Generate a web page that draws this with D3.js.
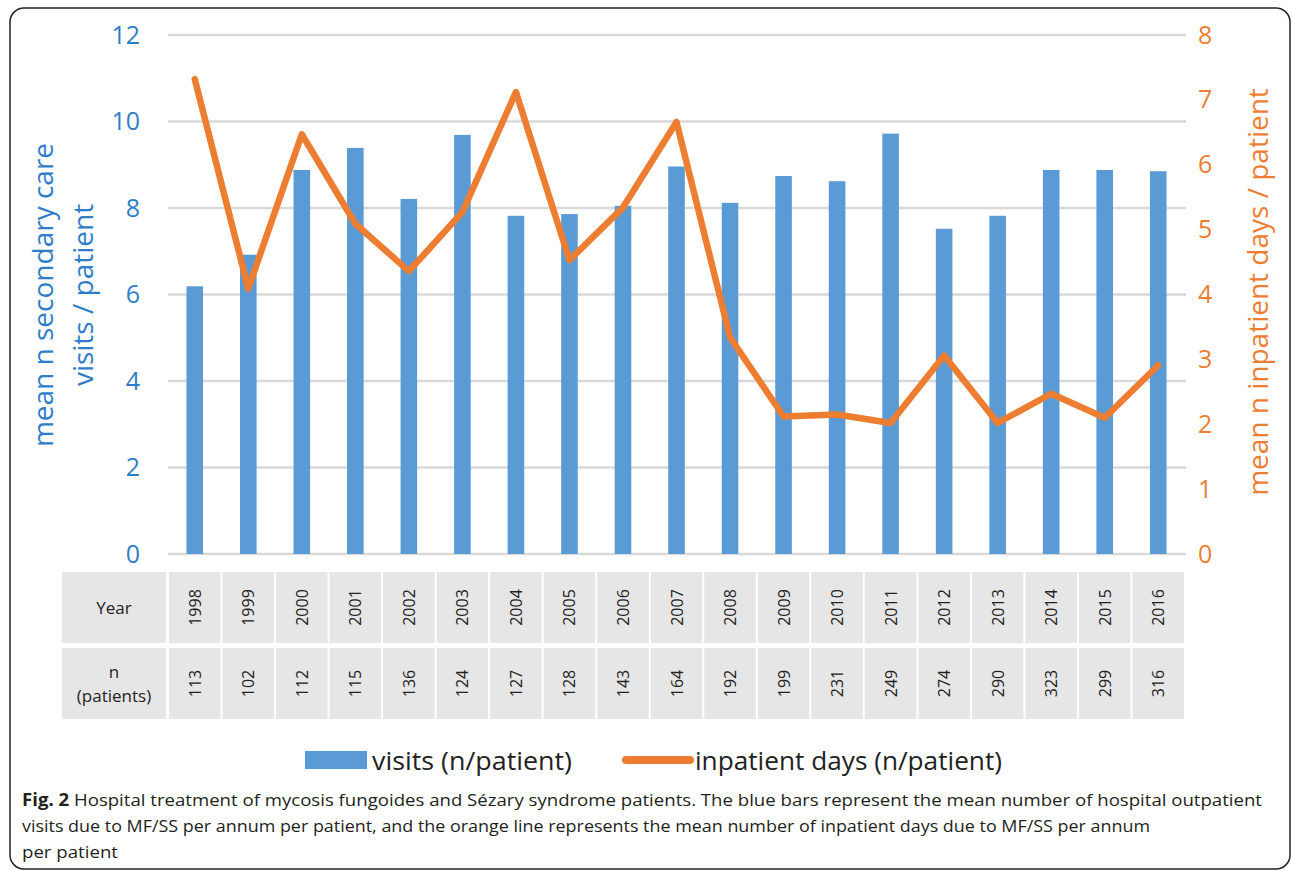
<!DOCTYPE html>
<html>
<head>
<meta charset="utf-8">
<script src="https://cdn.jsdelivr.net/npm/d3@7"></script>
<style>
body { margin: 0; background: #fff; }
svg text { font-family: "Open Sans", sans-serif; }
</style>
</head>
<body>
<svg></svg>
<script>

var w = 1292;
var h = 871;

// values
var years = ["1998","1999","2000","2001","2002","2003","2004","2005","2006","2007",
             "2008","2009","2010","2011","2012","2013","2014","2015","2016"];
var patients = [113,102,112,115,136,124,127,128,143,164,192,199,231,249,274,290,323,299,316];
var visits = [6.19,6.92,8.88,9.39,8.21,9.69,7.82,7.86,8.05,8.96,8.12,8.74,8.62,9.72,7.52,7.82,8.88,8.88,8.85];
var inpatientDays = [7.32,4.09,6.47,5.09,4.36,5.27,7.12,4.53,5.34,6.66,3.34,2.12,2.15,2.02,3.06,2.02,2.47,2.10,2.91];
var leftTicks = [0,2,4,6,8,10,12];
var rightTicks = [0,1,2,3,4,5,6,7,8];

var blue = "#5B9BD5";
var orange = "#ED7D31";

var svg = d3.select("svg")
    .attr("width", w)
    .attr("height", h);

// outer frame
svg.append("rect")
    .attr("x", 10).attr("y", 8)
    .attr("width", 1280).attr("height", 861)
    .attr("rx", 14)
    .attr("fill", "none")
    .attr("stroke", "#222")
    .attr("stroke-width", 1.5);

var x = d3.scaleBand()
    .domain(years)
    .range([168, 1185])
    .paddingInner(0.69)
    .paddingOuter(0.345);

var yL = d3.scaleLinear().domain([0, 12]).range([554, 35]);
var yR = d3.scaleLinear().domain([0, 8]).range([554, 35]);

// gridlines
svg.append("g")
    .selectAll("line")
    .data(leftTicks)
    .enter()
    .append("line")
    .attr("x1", 168)
    .attr("x2", 1186)
    .attr("y1", function(d) { return yL(d); })
    .attr("y2", function(d) { return yL(d); })
    .attr("stroke", "#D9D9D9")
    .attr("stroke-width", 2.5);

// axes (labels only)
var axL = svg.append("g")
    .attr("transform", "translate(168,0)")
    .call(d3.axisLeft(yL).tickValues(leftTicks).tickSize(0).tickPadding(28));
axL.select(".domain").remove();
axL.selectAll("text")
    .attr("fill", "#2F7DC8")
    .style("font-size", "25px");

var axR = svg.append("g")
    .attr("transform", "translate(1186,0)")
    .call(d3.axisRight(yR).tickValues(rightTicks).tickSize(0).tickPadding(12));
axR.select(".domain").remove();
axR.selectAll("text")
    .attr("fill", orange)
    .style("font-size", "25px");

// axis titles
var lt = svg.append("text")
    .attr("transform", "translate(53,295) rotate(-90)")
    .attr("text-anchor", "middle")
    .attr("fill", "#2F7DC8")
    .style("font-size", "28px");
lt.append("tspan").attr("x", 0).attr("y", 0).text("mean n secondary care");
lt.append("tspan").attr("x", 0).attr("y", 40).text("visits / patient");

svg.append("text")
    .attr("transform", "translate(1268,292) rotate(-90)")
    .attr("text-anchor", "middle")
    .attr("fill", orange)
    .style("font-size", "28px")
    .text("mean n inpatient days / patient");

// bars
svg.append("g")
    .selectAll("rect")
    .data(visits)
    .enter()
    .append("rect")
    .attr("x", function(d, i) { return x(years[i]); })
    .attr("width", x.bandwidth())
    .attr("y", function(d) { return yL(d); })
    .attr("height", function(d) { return yL(0) - yL(d); })
    .attr("fill", blue);

// line
var line = d3.line()
    .x(function(d, i) { return x(years[i]) + x.bandwidth() / 2; })
    .y(function(d) { return yR(d); });

svg.append("path")
    .datum(inpatientDays)
    .attr("d", line)
    .attr("fill", "none")
    .attr("stroke", orange)
    .attr("stroke-width", 6.5)
    .attr("stroke-linejoin", "round")
    .attr("stroke-linecap", "round");

// data table under the chart
var rows = [
    {label: ["Year"], vals: years, y: 572, h: 71},
    {label: ["n", "(patients)"], vals: patients, y: 648, h: 71}
];

rows.forEach(function(r) {
    var g = svg.append("g");
    g.append("rect")
        .attr("x", 62).attr("y", r.y)
        .attr("width", 104).attr("height", r.h)
        .attr("fill", "#E6E6E6");
    var lab = g.append("text")
        .attr("text-anchor", "middle")
        .attr("fill", "#222")
        .style("font-size", "17px");
    r.label.forEach(function(s, k) {
        lab.append("tspan")
            .attr("x", 114)
            .attr("y", r.y + r.h / 2 + 6 + (k - (r.label.length - 1) / 2) * 24)
            .text(s);
    });
    g.selectAll("rect.cell")
        .data(r.vals)
        .enter()
        .append("rect")
        .attr("class", "cell")
        .attr("x", function(d, i) { return x(years[i]) - x.step() * x.paddingInner() / 2 + 1; })
        .attr("y", r.y)
        .attr("width", x.step() - 2)
        .attr("height", r.h)
        .attr("fill", "#E6E6E6");
    g.selectAll("text.val")
        .data(r.vals)
        .enter()
        .append("text")
        .attr("class", "val")
        .attr("transform", function(d, i) {
            return "translate(" + (x(years[i]) + x.bandwidth() / 2 + 6) + "," + (r.y + r.h / 2) + ") rotate(-90)";
        })
        .attr("text-anchor", "middle")
        .attr("fill", "#222")
        .style("font-size", "16px")
        .text(function(d) { return d; });
});

// legend
svg.append("rect")
    .attr("x", 305).attr("y", 751)
    .attr("width", 62).attr("height", 18)
    .attr("fill", blue);
svg.append("text")
    .attr("x", 372).attr("y", 770)
    .attr("fill", "#222")
    .style("font-size", "25px")
    .attr("textLength", 200)
    .attr("lengthAdjust", "spacingAndGlyphs")
    .text("visits (n/patient)");
svg.append("line")
    .attr("x1", 626).attr("x2", 690)
    .attr("y1", 760).attr("y2", 760)
    .attr("stroke", orange)
    .attr("stroke-width", 8)
    .attr("stroke-linecap", "round");
svg.append("text")
    .attr("x", 695).attr("y", 770)
    .attr("fill", "#222")
    .style("font-size", "25px")
    .attr("textLength", 307)
    .attr("lengthAdjust", "spacingAndGlyphs")
    .text("inpatient days (n/patient)");

// caption
var cap1 = svg.append("text")
    .attr("x", 22).attr("y", 806)
    .attr("fill", "#231F20")
    .style("font-size", "17px")
    .attr("textLength", 1240)
    .attr("lengthAdjust", "spacingAndGlyphs");
cap1.append("tspan").style("font-weight", "bold").text("Fig. 2");
cap1.append("tspan").text(" Hospital treatment of mycosis fungoides and Sézary syndrome patients. The blue bars represent the mean number of hospital outpatient");

svg.append("text")
    .attr("x", 22).attr("y", 832)
    .attr("fill", "#231F20")
    .style("font-size", "17px")
    .attr("textLength", 1128)
    .attr("lengthAdjust", "spacingAndGlyphs")
    .text("visits due to MF/SS per annum per patient, and the orange line represents the mean number of inpatient days due to MF/SS per annum");

svg.append("text")
    .attr("x", 22).attr("y", 858)
    .attr("fill", "#231F20")
    .style("font-size", "17px")
    .attr("textLength", 96)
    .attr("lengthAdjust", "spacingAndGlyphs")
    .text("per patient");

</script>
</body>
</html>
